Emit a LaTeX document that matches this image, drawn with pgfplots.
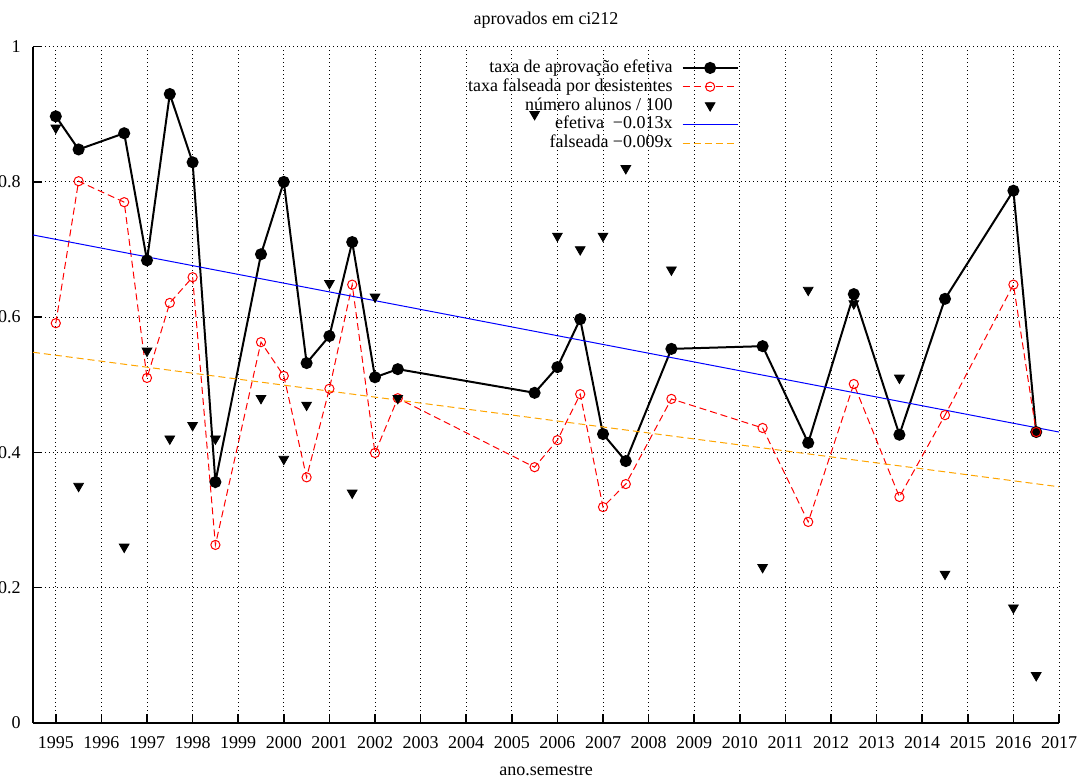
\documentclass[border=0pt]{standalone}
\usepackage{fontspec}
\setmainfont{Liberation Serif}
\usepackage{pgfplots}
\pgfplotsset{compat=1.18}
\definecolor{gporange}{RGB}{255,165,0}
\begin{document}
\fontsize{9}{11}\selectfont
\begin{tikzpicture}
\path[use as bounding box] (-16.5pt,-27.65pt) rectangle (526.5pt,361.35pt);
\begin{axis}[
  scale only axis,
  width=513pt, height=338pt,
  xmin=1994.5, xmax=2017, ymin=0, ymax=1,
  axis x line*=bottom, axis y line*=left,
  axis line style={line width=1pt},
  xtick={1995,1996,...,2017},
  ytick={0,0.2,0.4,0.6,0.8,1},
  tick align=inside,
  major tick length=4.5pt,
  tick style={line width=0.8pt, black},
  grid=major,
  grid style={black, line width=0.5pt, dash pattern=on 0.5pt off 1.5pt},
  /pgf/number format/assume math mode=true,
  xticklabel style={/pgf/number format/1000 sep={}, anchor=base, yshift=-12.65pt, inner sep=0pt},
  yticklabel style={inner sep=0pt, xshift=-6pt},
  title={aprovados em ci212},
  title style={at={(0.5,1)}, anchor=base, yshift=5.3pt, inner sep=0pt},
  xlabel={ano.semestre},
  xlabel style={at={(0.5,0)}, anchor=base, yshift=-26.6pt, inner sep=0pt},
  legend style={at={(0.694,0.989)}, anchor=north east, draw=none, fill=none,
    legend cell align=right,
    nodes={inner sep=0pt, text height=7pt, text depth=2.4pt},
    column sep=4.5pt},
  legend plot pos=right,
  legend image code/.code={\draw[mark repeat=2,mark phase=2,#1] plot coordinates {(0pt,0pt) (13.75pt,0pt) (27.5pt,0pt)};},
]
\addplot[black, draw=black, line width=1pt, mark=*, mark size=2.5pt] coordinates {
(1995,0.897) (1995.5,0.848) (1996.5,0.872) (1997,0.684) (1997.5,0.930) (1998,0.829)
(1998.5,0.356) (1999.5,0.693) (2000,0.800) (2000.5,0.532) (2001,0.572) (2001.5,0.711)
(2002,0.511) (2002.5,0.523) (2005.5,0.488) (2006,0.526) (2006.5,0.597) (2007,0.427)
(2007.5,0.387) (2008.5,0.553) (2010.5,0.557) (2011.5,0.414) (2012.5,0.634) (2013.5,0.426)
(2014.5,0.627) (2016,0.787) (2016.5,0.430)};
\addlegendentry{taxa de aprovação efetiva}
\addplot[red, draw=red, line width=0.5pt, dash pattern=on 3.5pt off 2pt, mark=o, mark size=2.3pt, mark options={solid, draw=red}] coordinates {
(1995,0.591) (1995.5,0.801) (1996.5,0.770) (1997,0.510) (1997.5,0.621) (1998,0.659)
(1998.5,0.263) (1999.5,0.563) (2000,0.513) (2000.5,0.363) (2001,0.494) (2001.5,0.648)
(2002,0.399) (2002.5,0.480) (2005.5,0.378) (2006,0.418) (2006.5,0.486) (2007,0.319)
(2007.5,0.353) (2008.5,0.479) (2010.5,0.436) (2011.5,0.297) (2012.5,0.501) (2013.5,0.334)
(2014.5,0.455) (2016,0.648) (2016.5,0.430)};
\addlegendentry{taxa falseada por desistentes}
\addplot[only marks, black, mark=triangle*, mark size=2.8pt, mark options={rotate=180}] coordinates {
(1995,0.88) (1995.5,0.35) (1996.5,0.26) (1997,0.55) (1997.5,0.42) (1998,0.44)
(1998.5,0.42) (1999.5,0.48) (2000,0.39) (2000.5,0.47) (2001,0.65) (2001.5,0.34)
(2002,0.63) (2002.5,0.48) (2005.5,0.90) (2006,0.72) (2006.5,0.70) (2007,0.72)
(2007.5,0.82) (2008.5,0.67) (2010.5,0.23) (2011.5,0.64) (2012.5,0.62) (2013.5,0.51)
(2014.5,0.22) (2016,0.17) (2016.5,0.07)};
\addlegendentry{número alunos / 100}
\addplot[blue, draw=blue, line width=0.5pt] coordinates {(1994.5,0.7215) (2017,0.430)};
\addlegendentry{efetiva\ \ −0.013x}
\addplot[gporange, draw=gporange, line width=0.5pt, dash pattern=on 3.5pt off 2pt] coordinates {(1994.5,0.548) (2017,0.349)};
\addlegendentry{falseada −0.009x}
\end{axis}
\end{tikzpicture}
\end{document}
